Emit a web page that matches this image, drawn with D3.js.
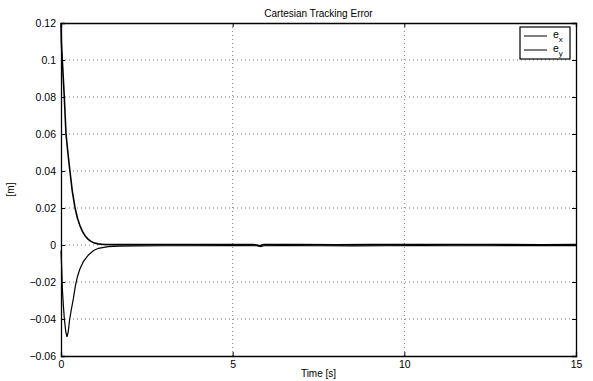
<!DOCTYPE html>
<html>
<head>
<meta charset="utf-8">
<script src="https://cdn.jsdelivr.net/npm/d3@7"></script>
<style>
  body { margin: 0; background: #fff; }
  text { font-family: "Liberation Sans", Arial, sans-serif; fill: #000; }
</style>
</head>
<body>
<script>
const w = 593;
const h = 381;
const padLeft = 61, padRight = 576, padTop = 23, padBottom = 356;

// data
const timeX = [0, 0.01, 0.038, 0.07, 0.096, 0.146, 0.2, 0.26, 0.33, 0.41, 0.48, 0.55, 0.62, 0.7, 0.78, 0.85, 0.95, 1.08, 1.25, 1.5, 2, 3, 4, 5, 5.6, 5.8, 5.9, 6.2, 7, 8, 9, 10, 11, 12, 13, 14, 15];
const errX = [0.12, 0.11, 0.1, 0.089, 0.08, 0.06, 0.05, 0.04, 0.029, 0.02, 0.0145, 0.0105, 0.0075, 0.005, 0.0033, 0.0022, 0.0012, 0.0006, 0.0003, 0.0002, 0.0002, 0.0003, 0.0002, 0.0002, 0.0003, -0.0004, 0.0003, 0.0002, 0.0002, 0.0001, 0.0002, 0.0002, 0.0003, 0.0002, 0.0002, 0.0001, 0.0002];
const timeY = [0, 0.02, 0.04, 0.07, 0.1, 0.14, 0.175, 0.21, 0.25, 0.3, 0.36, 0.42, 0.48, 0.55, 0.65, 0.8, 0.95, 1.09, 1.37, 1.7, 2.2, 3, 4, 5, 5.7, 5.82, 5.9, 6.5, 7.5, 8.5, 9.5, 10.5, 11.5, 12.5, 13.5, 14.5, 15];
const errY = [-0.003, -0.012, -0.024, -0.033, -0.0405, -0.047, -0.0496, -0.047, -0.0405, -0.035, -0.029, -0.022, -0.017, -0.013, -0.009, -0.0054, -0.003, -0.0018, -0.0009, -0.0006, -0.0005, -0.0004, -0.0004, -0.0003, -0.0004, -0.0009, -0.0004, -0.0003, -0.0004, -0.0005, -0.0004, -0.0003, -0.0004, -0.0004, -0.0003, -0.0003, -0.0003];
const xTicks = [0, 5, 10, 15];
const yTicks = [-0.06, -0.04, -0.02, 0, 0.02, 0.04, 0.06, 0.08, 0.1, 0.12];
const legendLabels = [["e", "x"], ["e", "y"]];

const svg = d3.select("body").append("svg").attr("width", w).attr("height", h);

const xScale = d3.scaleLinear().domain([0, 15]).range([padLeft, padRight]);
const yScale = d3.scaleLinear().domain([-0.06, 0.12]).range([padBottom, padTop]);

// grid
const grid = svg.append("g").attr("stroke", "#444").attr("stroke-width", 0.7)
  .attr("stroke-dasharray", "1,3");
grid.selectAll(".gx").data(xTicks.slice(1, -1)).enter().append("line")
  .attr("x1", (d) => xScale(d)).attr("x2", (d) => xScale(d))
  .attr("y1", padTop).attr("y2", padBottom);
grid.selectAll(".gy").data(yTicks.slice(1, -1)).enter().append("line")
  .attr("x1", padLeft).attr("x2", padRight)
  .attr("y1", (d) => yScale(d)).attr("y2", (d) => yScale(d));

// axes
const fmt = (d) => (d < 0 ? "\u2212" : "") + d3.format("")(Math.abs(+d.toFixed(2)));
svg.append("g").attr("transform", `translate(0, ${padBottom})`)
  .call(d3.axisBottom(xScale).tickValues(xTicks).tickSize(-4).tickPadding(5).tickFormat((d) => d));
svg.append("g").attr("transform", `translate(${padLeft}, 0)`)
  .call(d3.axisLeft(yScale).tickValues(yTicks).tickSize(-4).tickPadding(5).tickFormat(fmt));
svg.append("g").attr("transform", `translate(0, ${padTop})`)
  .call(d3.axisTop(xScale).tickValues(xTicks).tickSize(-4).tickFormat(""));
svg.append("g").attr("transform", `translate(${padRight}, 0)`)
  .call(d3.axisRight(yScale).tickValues(yTicks).tickSize(-4).tickFormat(""));
svg.selectAll(".domain").attr("stroke", "#000").attr("stroke-width", 1.3);
svg.selectAll(".tick line").attr("stroke", "#000");
svg.selectAll(".tick text").attr("font-size", 10.5).attr("fill", "#000")
  .style("font-family", "Liberation Sans, Arial, sans-serif");

// lines
const lineX = d3.line().x((d, i) => xScale(timeX[i])).y((d) => yScale(d));
const lineY = d3.line().x((d, i) => xScale(timeY[i])).y((d) => yScale(d));
svg.append("path").datum(errX).attr("d", lineX)
  .attr("fill", "none").attr("stroke", "#000").attr("stroke-width", 1.6);
svg.append("path").datum(errY).attr("d", lineY)
  .attr("fill", "none").attr("stroke", "#000").attr("stroke-width", 1.2);

// labels
svg.append("text").text("Cartesian Tracking Error")
  .attr("x", (padLeft + padRight) / 2).attr("y", 17).attr("text-anchor", "middle").attr("font-size", 10);
svg.append("text").text("Time [s]")
  .attr("x", (padLeft + padRight) / 2).attr("y", 377).attr("text-anchor", "middle").attr("font-size", 10);
svg.append("text").text("[m]")
  .attr("transform", `translate(14, ${(padTop + padBottom) / 2}) rotate(-90)`)
  .attr("text-anchor", "middle").attr("font-size", 10);

// legend
const legend = svg.append("g").attr("transform", "translate(520, 27)");
legend.append("rect").attr("width", 50).attr("height", 32)
  .attr("fill", "#fff").attr("stroke", "#000").attr("stroke-width", 1.2);
legendLabels.forEach((lab, i) => {
  const y = 9 + i * 14;
  legend.append("line").attr("x1", 4).attr("x2", 27).attr("y1", y).attr("y2", y)
    .attr("stroke", "#000").attr("stroke-width", 1);
  const t = legend.append("text").attr("x", 33).attr("y", y + 2).attr("font-size", 10.5);
  t.append("tspan").text(lab[0]);
  t.append("tspan").text(lab[1]).attr("font-size", 8).attr("dy", 4);
});
</script>
</body>
</html>
